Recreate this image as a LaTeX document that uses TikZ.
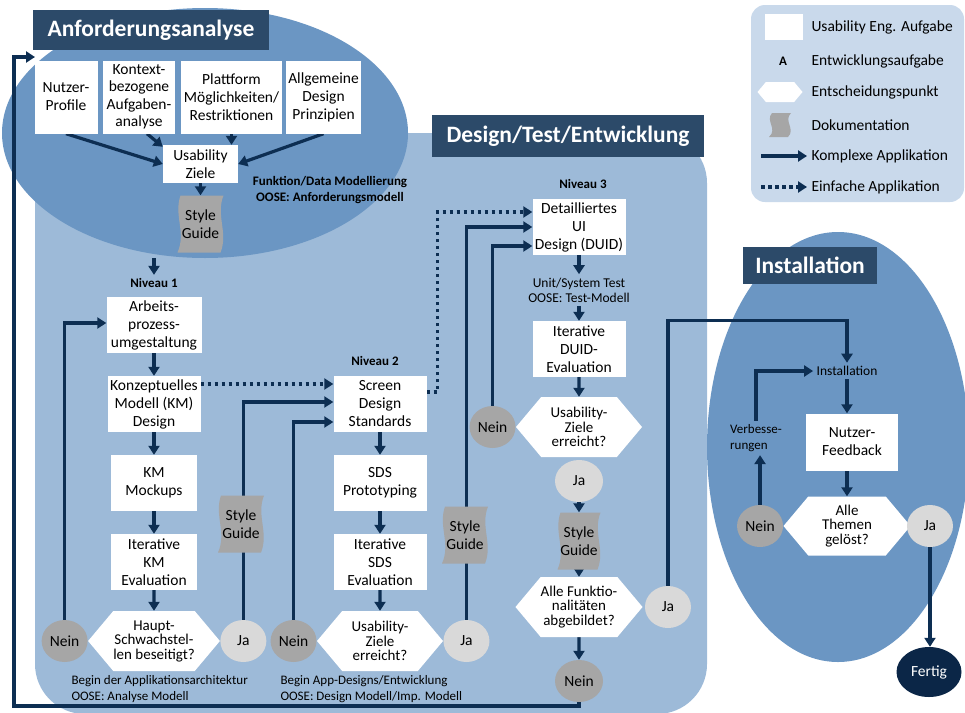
\documentclass[tikz,border=0pt]{standalone}
\usepackage{fontspec}
\setmainfont{Carlito}
\usetikzlibrary{arrows.meta,calc,positioning,shapes.geometric,shapes.symbols}

\definecolor{navy}{HTML}{0D2E52}
\definecolor{titleblue}{HTML}{2C4A69}
\definecolor{phaseblue}{HTML}{6B96C3}
\definecolor{designblue}{HTML}{9DBAD8}
\definecolor{legendblue}{HTML}{C9D9EB}
\definecolor{neingray}{HTML}{A6A6A6}
\definecolor{jagray}{HTML}{D9D9D9}
\definecolor{docgray}{HTML}{A6A6A6}
\definecolor{fertigblue}{HTML}{0B2647}

\pgfdeclarelayer{regions}
\pgfdeclarelayer{lines}
\pgfsetlayers{regions,lines,main}

\begin{document}
\begin{tikzpicture}[
  x = 1pt, y = -1pt,
  node distance   = 79pt,
  task/.style     = {rectangle, fill=white, minimum width=93pt, minimum height=56pt, align=center, inner sep=1pt, font=\fontsize{15.5}{18}\selectfont},
  decision/.style = {signal, signal to=east and west, signal pointer angle=100, fill=white, minimum width=126pt, minimum height=60pt, align=center, inner sep=0pt, font=\fontsize{15}{14.5}\selectfont},
  nein/.style     = {ellipse, fill=neingray, minimum width=46pt, minimum height=42pt, inner sep=0pt, font=\fontsize{15.5}{18}\selectfont},
  ja/.style       = {ellipse, fill=jagray  , minimum width=46pt, minimum height=42pt, inner sep=0pt, font=\fontsize{15.5}{18}\selectfont},
  docu/.style     = {rectangle, minimum width=50pt, minimum height=57pt, inner sep=0pt, align=center, font=\fontsize{15.5}{18}\selectfont,
                     path picture={\fill[docgray] ([xshift=5pt]path picture bounding box.north west)
                       .. controls ([xshift=-2pt,yshift=-#1]path picture bounding box.north west) and ([xshift=11pt,yshift=#1]path picture bounding box.south west)
                       .. ([xshift=2pt]path picture bounding box.south west)
                       -- ([xshift=-5pt]path picture bounding box.south east)
                       .. controls ([xshift=3pt,yshift=#1]path picture bounding box.south east) and ([xshift=-10pt,yshift=-#1]path picture bounding box.north east)
                       .. ([xshift=-2pt]path picture bounding box.north east) -- cycle;}},
  docu/.default   = 20pt,
  phase/.style    = {fill=titleblue, text=white, minimum height=40pt, inner xsep=15pt, font=\fontsize{23.5}{28}\selectfont\bfseries},
  level/.style    = {align=center, font=\fontsize{13}{15.5}\selectfont\bfseries},
  remark/.style   = {align=left, font=\fontsize{13}{16}\selectfont},
  legend/.style   = {anchor=west, font=\fontsize{15.5}{18}\selectfont},
  flow/.style     = {draw=navy, line width=3.2pt, -{Triangle[length=9pt,width=11pt]}},
  simple/.style   = {flow, dash pattern=on 3.5pt off 3.5pt},
  ]
  \useasboundingbox (0,0) rectangle (965,712);
  % phases
  \begin{pgfonlayer}{regions}
    \fill[designblue, rounded corners=50pt] (35,133) rectangle (707,714);
    \node[ellipse, fill=phaseblue, minimum width=406pt, minimum height=250pt] (anfphase) at (205,133) {};
    \node[ellipse, fill=phaseblue, minimum width=262pt, minimum height=430pt] (instphase) at (838,447) {};
    \fill[legendblue, rounded corners=14pt] (751,5) rectangle (964,202);
  \end{pgfonlayer}
  \node[phase] (anftitle) at (151,30) {Anforderungsanalyse};
  \node[phase, minimum height=42pt] (dtetitle) at (568,136) {Design/Test/Entwicklung};
  \node[phase, minimum height=37pt, inner xsep=12pt] (insttitle) at (810,265) {Installation};
  % anforderungsanalyse
  \node[task, minimum width=63pt , minimum height=73pt] (nutzer)    at (66,97)    {Nutzer-\\Profile};
  \node[task, minimum width=72pt , minimum height=73pt, font=\fontsize{15.5}{17.5}\selectfont] (kontext) at (139,97) {Kontext-\\bezogene\\Aufgaben-\\analyse};
  \node[task, minimum width=101pt, minimum height=73pt] (plattform) at (231.5,97) {Plattform\\Möglichkeiten/\\Restriktionen};
  \node[task, minimum width=75pt , minimum height=73pt] (prinzip)   at (323.5,97) {Allgemeine\\Design\\Prinzipien};
  \node[task, minimum width=75pt , minimum height=38pt] (ziele)     at (200.5,164) {Usability\\Ziele};
  \node[docu] (sg0) at (200.5,224) {Style\\Guide};
  \node[level] (anfnote) at (330,190) {Funktion/Data Modellierung\\OOSE: Anforderungsmodell};
  % niveau 1
  \node[level] (niv1) at (154,283) {Niveau 1};
  \node[task, minimum width=95pt] (arbeit) at (154,325) {Arbeits-\\prozess-\\umgestaltung};
  \node[task, below of=arbeit] (kmdesign) {Konzeptuelles\\Modell (KM)\\Design};
  \node[task, below of=kmdesign, minimum width=86pt] (mockup) {KM\\Mockups};
  \node[task, below of=mockup, minimum width=86pt] (kmeval) {Iterative\\KM\\Evaluation};
  \node[decision, below of=kmeval] (kmdec) {Haupt-\\Schwachstel-\\len beseitigt?};
  \node[nein, left=0pt of kmdec] (kmnein) {Nein};
  \node[ja, right=0pt of kmdec] (kmja) {Ja};
  \node[docu] (sg1) at (241,524) {Style\\Guide};
  \node[remark, anchor=west] (kmnote) at (68,689) {Begin der Applikationsarchitektur\\OOSE: Analyse Modell};
  % niveau 2
  \node[level] (niv2) at (375,361) {Niveau 2};
  \node[task] (sds) at (380,404) {Screen\\Design\\Standards};
  \node[task, below of=sds] (proto) {SDS\\Prototyping};
  \node[task, below of=proto] (sdseval) {Iterative\\SDS\\Evaluation};
  \node[decision, below of=sdseval] (sdsdec) {Usability-\\Ziele\\erreicht?};
  \node[nein, left=0pt of sdsdec] (sdsnein) {Nein};
  \node[ja, right=0pt of sdsdec] (sdsja) {Ja};
  \node[docu] (sg2) at (465,535) {Style\\Guide};
  \node[remark, anchor=west] (sdsnote) at (277,689) {Begin App-Designs/Entwicklung\\OOSE: Design Modell/Imp. Modell};
  % niveau 3
  \node[level] (niv3) at (583,184) {Niveau 3};
  \node[task] (duid) at (579,227) {Detailliertes\\UI\\Design (DUID)};
  \node[remark, align=center, font=\fontsize{13.5}{15}\selectfont] (unittest) at (579,290) {Unit/System Test\\OOSE: Test-Modell};
  \node[task] (duideval) at (579,349) {Iterative\\DUID-\\Evaluation};
  \node[decision] (duiddec) at (579,427) {Usability-\\Ziele\\erreicht?};
  \node[nein, left=0pt of duiddec] (duidnein) {Nein};
  \node[ja, minimum width=48pt] (duidja) at (579,481) {Ja};
  \node[docu, minimum width=47pt] (sg3) at (579,541) {Style\\Guide};
  \node[decision] (funcdec) at (579,607) {Alle Funktio-\\nalitäten\\abgebildet?};
  \node[ja, right=2pt of funcdec] (funcja) {Ja};
  \node[nein, minimum width=48pt] (funcnein) at (579,681) {Nein};
  % installation
  \node[remark, font=\fontsize{13.5}{16}\selectfont] (install) at (847,371) {Installation};
  \node[remark] (verbess) at (756,438) {Verbesse-\\rungen};
  \node[task, minimum width=92pt, minimum height=57pt] (feedback) at (852,442) {Nutzer-\\Feedback};
  \node[decision, minimum width=127pt, minimum height=59pt] (themen) at (847,526) {Alle\\Themen\\gelöst?};
  \node[nein, left=0pt of themen] (instnein) {Nein};
  \node[ja, right=-4pt of themen] (instja) {Ja};
  \node[ellipse, fill=fertigblue, text=white, minimum width=65pt, minimum height=50pt, font=\fontsize{15.5}{18}\selectfont] (fertig) at (929,672) {Fertig};
  % legend
  \node[task, minimum width=38pt, minimum height=26pt] (lgtask) at (784,27) {};
  \node[font=\fontsize{13}{15}\selectfont\bfseries] (lgdev) at (783,61) {A};
  \node[decision, minimum width=45pt, minimum height=20pt] (lgdec) at (780,92) {};
  \node[docu=8pt, minimum width=26pt, minimum height=24pt] (lgdoc) at (780,125) {};
  \coordinate (lgflowa)   at (761,156);
  \coordinate (lgflowb)   at (807,156);
  \coordinate (lgsimplea) at (761,187);
  \coordinate (lgsimpleb) at (807,187);
  \node[legend] (lgtasktext)   at (808,27)  {Usability Eng. Aufgabe};
  \node[legend] (lgdevtext)    at (808,61)  {Entwicklungsaufgabe};
  \node[legend] (lgdectext)    at (808,92)  {Entscheidungspunkt};
  \node[legend] (lgdoctext)    at (808,125) {Dokumentation};
  \node[legend] (lgflowtext)   at (808,156) {Komplexe Applikation};
  \node[legend] (lgsimpletext) at (808,187) {Einfache Applikation};
  % loop back
  \coordinate (loopbl)  at (14,706);
  \coordinate (looptl)  at (14,57);
  \coordinate (loopend) at (35,57);
  % connectors
  \begin{pgfonlayer}{lines}
    \draw[flow] (nutzer.south) -- (ziele.west);
    \draw[flow] ([xshift=8pt]kontext.south) -- ([yshift=-2pt]ziele.north west);
    \draw[flow] (plattform.south) -- (plattform.south |- ziele.north);
    \draw[flow] (prinzip.south) -- (ziele.east);
    \draw[flow] (ziele) -- (sg0);
    \draw[flow] (niv1.north |- anfphase.south) -- (niv1);
    \draw[flow] (arbeit) -- (kmdesign);
    \draw[flow] (kmdesign) -- (mockup);
    \draw[flow] (mockup) -- (kmeval);
    \draw[flow] (kmeval) -- (kmdec);
    \draw[flow] (kmnein.north) |- ([yshift=2pt]arbeit.west);
    \draw[flow] (kmja.north) |- ([yshift=2pt]sds.west);
    \draw[simple] ([yshift=20pt]kmdesign.east) -- ([yshift=20pt]kmdesign.east -| sds.west);
    \draw[flow] (sds) -- (proto);
    \draw[flow] (proto) -- (sdseval);
    \draw[flow] (sdseval) -- (sdsdec);
    \draw[flow] (sdsnein.north) |- ([yshift=-18pt]sds.west);
    \draw[flow] (sdsja.north) |- (duid.west);
    \draw[simple] ([yshift=12pt]sds.east) -- ++(11,0) |- ([yshift=15pt]duid.west);
    \draw[flow] (duid) -- (unittest);
    \draw[flow] (unittest) -- (duideval);
    \draw[flow] (duideval) -- (duiddec);
    \draw[flow] (duidnein.north) |- ([yshift=-19pt]duid.west);
    \draw[flow] (duidja) -- (sg3);
    \draw[flow] (sg3) -- (funcdec);
    \draw[flow] (funcdec) -- (funcnein);
    \draw[flow] (funcja.north) |- ([yshift=42pt]install.north) -- (install.north);
    \draw[flow] (funcnein.south) |- (loopbl) -- (looptl) -- (loopend);
    \draw[flow] (verbess.north) |- (install.west);
    \draw[flow] (install.south) -- (install.south |- feedback.north);
    \draw[flow] (install.south |- feedback.south) -- (install.south |- themen.north);
    \draw[flow] (instnein.north) -- (instnein.north |- verbess.south);
    \draw[flow] (instja.south) -- (instja.south |- fertig.north);
    \draw[flow] (lgflowa) -- (lgflowb);
    \draw[simple] (lgsimplea) -- (lgsimpleb);
  \end{pgfonlayer}
\end{tikzpicture}
\end{document}
